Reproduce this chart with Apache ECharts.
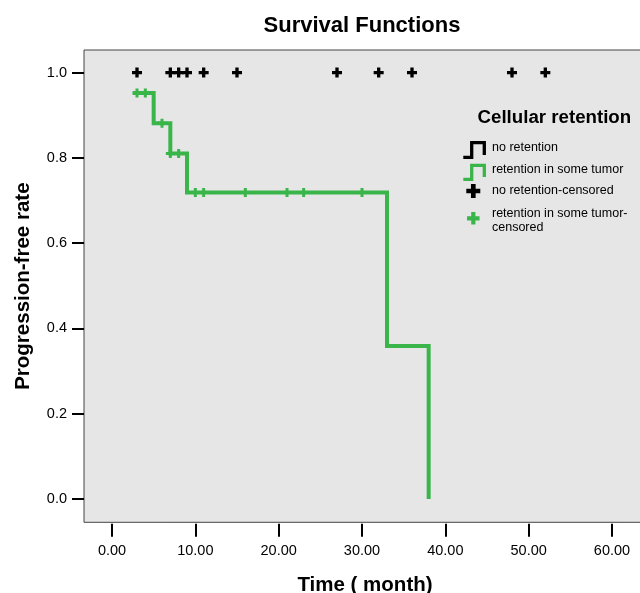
<!DOCTYPE html>
<html><head><meta charset="utf-8">
<script src="https://cdn.jsdelivr.net/npm/echarts@6/dist/echarts.min.js"></script>
<style>html,body{margin:0;padding:0;background:#fff;overflow:hidden}#c{width:646px;height:593px}</style>
</head><body><div id="c"></div>
<script>
// Kaplan-Meier step curve: retention in some tumor
const stepTimes = [2.5, 5, 7, 9, 33, 38];
const stepSurv  = [0.952, 0.881, 0.810, 0.719, 0.359, 0.0];
// censored cases, retention in some tumor
const censGreenTimes = [3, 4, 6, 7, 8, 10, 11, 16, 21, 23, 30];
const censGreenSurv  = [0.952, 0.952, 0.881, 0.810, 0.810, 0.719, 0.719, 0.719, 0.719, 0.719, 0.719];
// censored cases, no retention
const censBlackTimes = [3, 7, 8, 9, 11, 15, 27, 32, 36, 48, 52];
const censBlackSurv  = [1, 1, 1, 1, 1, 1, 1, 1, 1, 1, 1];
const xTicks = [0, 10, 20, 30, 40, 50, 60];
const yTicks = [0, 0.2, 0.4, 0.6, 0.8, 1.0];

const GREEN = '#39b54a';
const PLUS = 'path://M3,0H6V3H9V6H6V9H3V6H0V3H3Z';
const FONT = 'Liberation Sans, Arial, sans-serif';

const chart = echarts.init(document.getElementById('c'));
const zip = (a, b) => a.map((v, i) => [v, b[i]]);
function plusPts(cx, cy, s) {
  const h = s / 2, a = s / 6;
  return [[cx-a,cy-h],[cx+a,cy-h],[cx+a,cy-a],[cx+h,cy-a],[cx+h,cy+a],[cx+a,cy+a],
          [cx+a,cy+h],[cx-a,cy+h],[cx-a,cy+a],[cx-h,cy+a],[cx-h,cy-a],[cx-a,cy-a]];
}
function legText(txt, x, y, size, bold) {
  return { type: 'text', x: x, y: y, style: { text: txt, font: (bold ? 'bold ' : '') + size + 'px ' + FONT, fill: '#000', verticalAlign: 'middle', align: 'left' } };
}

chart.setOption({
  animation: false,
  textStyle: { fontFamily: FONT },
  title: {
    text: 'Survival Functions', left: 357, top: 10, textAlign: 'center',
    textStyle: { fontFamily: FONT, fontSize: 22, fontWeight: 'bold', color: '#000' }
  },
  grid: {
    left: 84, top: 50, right: 0, height: 472.3, show: true,
    containLabel: false, outerBoundsMode: 'none',
    backgroundColor: '#e6e6e6', borderColor: '#444', borderWidth: 1
  },
  xAxis: {
    type: 'value', min: -3.36, max: 64.08, offset: 1.5,
    name: 'Time ( month)', nameLocation: 'middle', nameGap: 51,
    nameTextStyle: { fontFamily: FONT, fontSize: 20.5, fontWeight: 'bold', color: '#000' },
    splitLine: { show: false },
    axisLine: { show: false, onZero: false },
    axisTick: { show: true, length: 13, lineStyle: { color: '#000', width: 2 }, customValues: xTicks },
    axisLabel: { margin: 19.5, fontSize: 14.5, color: '#000', fontFamily: FONT,
      customValues: xTicks, formatter: v => v.toFixed(2) }
  },
  yAxis: {
    type: 'value', min: -0.0547, max: 1.053,
    name: 'Progression-free rate', nameLocation: 'middle', nameGap: 50, nameRotate: 90,
    nameTextStyle: { fontFamily: FONT, fontSize: 20.5, fontWeight: 'bold', color: '#000' },
    splitLine: { show: false },
    axisLine: { show: false, onZero: false },
    axisTick: { show: true, length: 12, lineStyle: { color: '#000', width: 2 }, customValues: yTicks },
    axisLabel: { margin: 17, fontSize: 14.5, color: '#000', fontFamily: FONT,
      customValues: yTicks, formatter: v => v.toFixed(1) }
  },
  series: [
    {
      name: 'retention in some tumor', type: 'line', step: 'end',
      data: zip(stepTimes, stepSurv), showSymbol: false, symbol: 'none',
      lineStyle: { color: GREEN, width: 4, cap: 'butt', join: 'miter' }, z: 2
    },
    {
      name: 'retention in some tumor-censored', type: 'scatter',
      data: zip(censGreenTimes, censGreenSurv), symbol: PLUS, symbolSize: 9,
      itemStyle: { color: GREEN, opacity: 1 }, z: 3
    },
    {
      name: 'no retention-censored', type: 'scatter',
      data: zip(censBlackTimes, censBlackSurv), symbol: PLUS, symbolSize: 10,
      itemStyle: { color: '#000', opacity: 1 }, z: 3
    }
  ],
  graphic: [
    legText('Cellular retention', 477.5, 118, 18.7, true),
    { type: 'polyline', shape: { points: [[463.3,157.3],[471.7,157.3],[471.7,142.7],[484.3,142.7],[484.3,155]] }, style: { stroke: '#000', lineWidth: 3.3, fill: null, lineJoin: 'miter' } },
    { type: 'polyline', shape: { points: [[463.3,179.3],[471.7,179.3],[471.7,165.3],[484.3,165.3],[484.3,177]] }, style: { stroke: GREEN, lineWidth: 3.3, fill: null, lineJoin: 'miter' } },
    { type: 'polygon', shape: { points: plusPts(473.3, 191, 14) }, style: { fill: '#000' } },
    { type: 'polygon', shape: { points: plusPts(473.3, 218.3, 12.5) }, style: { fill: GREEN } },
    legText('no retention', 492, 147.7, 12.5, false),
    legText('retention in some tumor', 492, 170, 12.5, false),
    legText('no retention-censored', 492, 190.7, 12.5, false),
    legText('retention in some tumor-', 492, 213.3, 12.5, false),
    legText('censored', 492, 227.7, 12.5, false)
  ]
});
</script></body></html>
